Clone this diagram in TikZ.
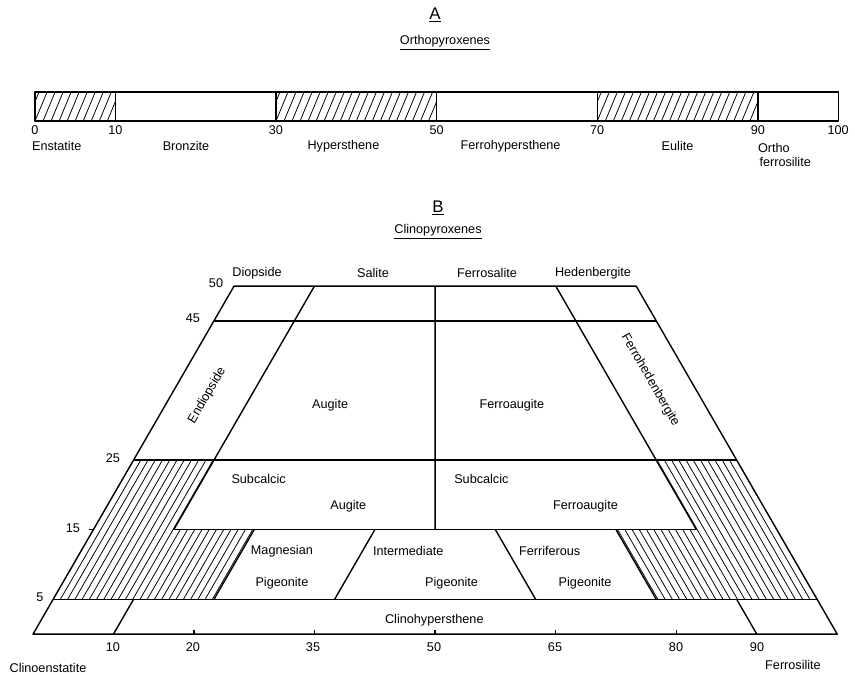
\documentclass[tikz,border=0pt]{standalone}
\usepackage{fontspec}
\setmainfont{Liberation Sans}
\usetikzlibrary{positioning}

\tikzset{
  lbl/.style={font=\fontsize{9}{10}\selectfont, inner sep=1pt},
  head/.style={font=\fontsize{12}{13}\selectfont, inner sep=1pt},
  hatch/.style={line width=0.55pt},
}

\begin{document}
\begin{tikzpicture}[x=0.025cm, y=-0.025cm, line width=1pt, line join=round]
\useasboundingbox (0,0) rectangle (855,675);

    % titles A
    \node[head] (A) at (435,15) {\underline{A}};
    \node[lbl] (ortho) at (445,43) {\underline{Orthopyroxenes}};

    % bar A
    \begin{scope}[shift={(0.875cm,-3.025cm)}, x=0.20075cm, y=0.025cm]
      \begin{scope}
        \clip (0,0) rectangle (10,29) (30,0) rectangle (50,29) (70,0) rectangle (90,29);
        \foreach \v in {-2,-1,...,90} \draw[hatch] (\v,0) -- ++(1.5,29);
      \end{scope}
      \draw (0,0) rectangle (100,29);
      \foreach \v in {10,30,50,70,90} \draw (\v,0) -- (\v,29);
      \foreach \v in {0,10,30,50,70,90,100} \node[lbl] (a\v) at (\v,-9) {\v};
      \node[lbl] (enst) at (2.7,-25) {Enstatite};
      \node[lbl] (bronz) at (18.8,-25) {Bronzite};
      \node[lbl] (hyp) at (38.4,-25) {Hypersthene};
      \node[lbl] (fhyp) at (59.2,-25) {Ferrohypersthene};
      \node[lbl] (eul) at (80,-25) {Eulite};
      \node[lbl] (orth) at (92,-27) {Ortho};
      \node[lbl] (fsil) at (93.4,-41) {ferrosilite};
    \end{scope}

    % titles B
    \node[head] (B) at (438,208) {\underline{B}};
    \node[lbl] (clino) at (438,232) {\underline{Clinopyroxenes}};

    % quadrilateral B, (Fs,Wo)
    \begin{scope}[shift={(0.825cm,-15.85cm)}, x=0.201cm, y={(0.1005cm,0.174cm)}]
      % hatching
      \begin{scope}
        \clip (0,5) -- (0,25) -- (10,25) -- (10,15) -- (20,15) -- (20,5) -- cycle;
        \foreach \f in {0,0.9,...,20} \draw[hatch] (\f,5) -- (\f,25);
      \end{scope}
      \begin{scope}
        \clip (65,25) -- (75,25) -- (95,5) -- (75,5) -- (65,15) -- (75,15) -- cycle;
        \foreach \m in {0,0.9,...,20} \draw[hatch] (95-\m,5) -- (75-\m,25);
      \end{scope}
      % outline and fields
      \draw (0,0) -- (100,0) -- (50,50) -- (0,50) -- cycle;
      \draw (0,45) -- (55,45);
      \draw (0,25) -- (75,25);
      \draw (10,15) -- (75,15);
      \draw (0,5) -- (95,5);
      \draw (10,50) -- (10,15);
      \draw (40,50) -- (75,15);
      \draw (25,50) -- (42.5,15);
      \draw (20,15) -- (20,5);
      \draw (65,15) -- (75,5);
      \draw (35,15) -- (35,5);
      \draw (50,15) -- (60,5);
      \draw (10,0) -- (10,5);
      \draw (90,0) -- (85,5);
      \draw (0,15) -- ++(-3pt,0pt);
      \foreach \f in {20,35,50,65,80} \draw (\f,0) -- ++(0pt,3pt);
      % field names
      \node[lbl, rotate=60] (endi) at (4.5,34.3) {Endiopside};
      \node[lbl, rotate=-60] (fhed) at (58.5,36.5) {Ferrohedenbergite};
      \node[lbl] (aug) at (20.5,32.9) {Augite};
      \node[lbl] (faug) at (43.1,32.9) {Ferroaugite};
      \node[lbl] (sub1) at (16.9,22.3) {Subcalcic};
      \node[lbl] (aug2) at (30,18.4) {Augite};
      \node[lbl] (sub2) at (44.6,22.3) {Subcalcic};
      \node[lbl] (faug2) at (59.5,18.4) {Ferroaugite};
      \node[lbl] (mag) at (25,11.9) {Magnesian};
      \node[lbl] (pig1) at (27.3,7.3) {Pigeonite};
      \node[lbl] (inter) at (40.7,11.9) {Intermediate};
      \node[lbl] (pig2) at (48.4,7.3) {Pigeonite};
      \node[lbl] (ferri) at (58.3,11.9) {Ferriferous};
      \node[lbl] (pig3) at (65,7.3) {Pigeonite};
      \node[lbl] (chyp) at (48.9,2) {Clinohypersthene};
    \end{scope}

    % top names
    \node[lbl] (diop) at (257,273) {Diopside};
    \node[lbl] (sal) at (373,273) {Salite};
    \node[lbl] (fsal) at (487,273) {Ferrosalite};
    \node[lbl] (hed) at (593,273) {Hedenbergite};

    % Wo scale
    \node[lbl] (w50) at (216,283) {50};
    \node[lbl] (w45) at (193,318) {45};
    \node[lbl] (w25) at (113,458) {25};
    \node[lbl] (w15) at (73,528) {15};
    \node[lbl] (w5) at (40,597) {5};

    % Fs scale
    \foreach \v/\p in {10/113,20/193,35/313,50/434,65/555,80/676,90/757}
      \node[lbl] (b\v) at (\p,647) {\v};
    \node[lbl] (cen) at (48,668) {Clinoenstatite};
    \node[lbl] (fs) at (793,665) {Ferrosilite};
\end{tikzpicture}
\end{document}
